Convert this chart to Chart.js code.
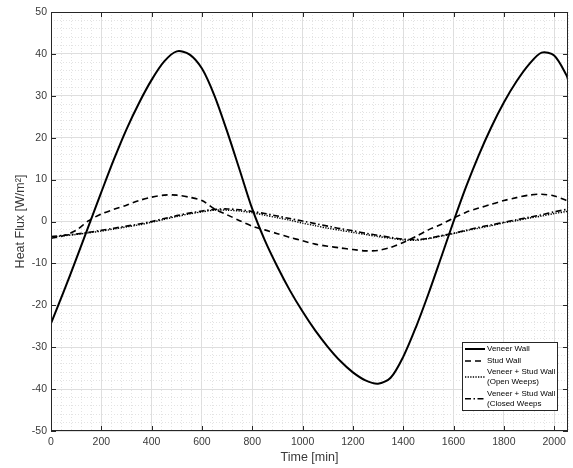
<!doctype html>
<html lang="en">
<head>
    <meta charset="utf-8" />
    <title>Heat Flux</title>
    <script src="https://cdn.jsdelivr.net/npm/chart.js"></script>
    <style>
        body { margin: 0; background: #fff; }
    </style>
</head>
<body>
    <canvas id="chartFlux" width="573" height="468"></canvas>
    <script>
        // time in minutes, shared by all series
        const timeMin = [0, 50, 100, 150, 200, 250, 300, 350, 400, 450, 500, 550, 600, 650, 700, 750, 800, 850, 900, 950,
            1000, 1050, 1100, 1150, 1200, 1250, 1300, 1350, 1400, 1450, 1500, 1550, 1600, 1650, 1700, 1750, 1800, 1850,
            1900, 1950, 2000, 2050, 2055];

        const veneerWall = [-24.3, -16.8, -9.0, -1.0, 7.0, 14.8, 22.0, 28.3, 33.8, 38.2, 40.6, 39.9, 36.5, 30.0, 21.5,
            12.3, 3.0, -4.5, -10.8, -16.5, -21.5, -26.0, -29.9, -33.3, -36.0, -37.9, -38.7, -37.3, -32.3, -25.3, -17.3,
            -8.7, 0.0, 8.3, 15.8, 22.5, 28.4, 33.4, 37.5, 40.3, 39.6, 34.8, 33.8];

        const studWall = [-4.0, -3.4, -2.1, 0.2, 1.8, 2.9, 3.9, 5.0, 5.8, 6.3, 6.3, 5.8, 5.0, 3.0, 1.6, 0.2, -1.1, -2.0,
            -2.9, -3.8, -4.6, -5.4, -5.9, -6.3, -6.7, -7.0, -6.9, -6.2, -5.0, -3.6, -2.0, -0.7, 0.8, 2.2, 3.2, 4.1, 5.0,
            5.7, 6.3, 6.5, 6.1, 5.0, 4.8];

        const openWeeps = [-3.8, -3.4, -3.1, -2.7, -2.3, -1.8, -1.3, -0.8, -0.2, 0.5, 1.2, 1.8, 2.3, 2.7, 2.7, 2.5, 2.1,
            1.5, 0.9, 0.3, -0.4, -1.0, -1.6, -2.1, -2.6, -3.1, -3.6, -4.0, -4.4, -4.5, -4.1, -3.5, -2.9, -2.2, -1.6, -1.0,
            -0.3, 0.2, 0.8, 1.3, 1.9, 2.4, 2.5];

        const closedWeeps = [-3.6, -3.3, -3.0, -2.6, -2.1, -1.6, -1.1, -0.6, 0.0, 0.7, 1.4, 2.0, 2.5, 2.9, 3.0, 2.8, 2.4,
            1.9, 1.3, 0.7, 0.1, -0.5, -1.1, -1.7, -2.2, -2.8, -3.3, -3.8, -4.2, -4.3, -4.0, -3.4, -2.8, -2.1, -1.4, -0.8,
            -0.2, 0.4, 1.0, 1.6, 2.3, 2.9, 3.0];

        const xMajorTicks = [0, 200, 400, 600, 800, 1000, 1200, 1400, 1600, 1800, 2000];
        const yMajorTicks = [-50, -40, -30, -20, -10, 0, 10, 20, 30, 40, 50];

        const legendLabels = [['Veneer Wall'], ['Stud Wall'], ['Veneer + Stud Wall', '(Open Weeps)'],
            ['Veneer + Stud Wall', '(Closed Weeps']];

        const AXIS_COLOR = '#262626';
        const TEXT_COLOR = '#3a3a3a';
        const MAJOR_GRID = '#dedede';
        const MINOR_GRID = '#e3e3e3';

        const styles = [
            { width: 2, dash: [] },
            { width: 1.6, dash: [6, 4] },
            { width: 1.4, dash: [1.3, 1.3] },
            { width: 1.6, dash: [6, 2.5, 1.5, 2.5] }
        ];

        function toPoints(values) {
            return timeMin.map((t, i) => ({ x: t, y: values[i] }));
        }

        function makeDataset(label, values, style) {
            return {
                label: label,
                data: toPoints(values),
                borderColor: '#000',
                borderWidth: style.width,
                borderDash: style.dash,
                pointRadius: 0,
                fill: false,
                tension: 0.3
            };
        }

        const boxPlugin = {
            id: 'boxPlugin',
            afterDraw(chart) {
                const { ctx, chartArea: a, scales } = chart;
                ctx.save();
                ctx.strokeStyle = AXIS_COLOR;
                ctx.lineWidth = 1;
                ctx.setLineDash([]);
                ctx.strokeRect(a.left + 0.5, a.top + 0.5, a.right - a.left - 1, a.bottom - a.top - 1);

                // inward tick marks
                ctx.beginPath();
                for (const v of xMajorTicks) {
                    const px = Math.round(scales.x.getPixelForValue(v)) + 0.5;
                    ctx.moveTo(px, a.bottom); ctx.lineTo(px, a.bottom - 5);
                    ctx.moveTo(px, a.top); ctx.lineTo(px, a.top + 5);
                }
                for (const v of yMajorTicks) {
                    const py = Math.round(scales.y.getPixelForValue(v)) + 0.5;
                    ctx.moveTo(a.left, py); ctx.lineTo(a.left + 5, py);
                    ctx.moveTo(a.right, py); ctx.lineTo(a.right - 5, py);
                }
                ctx.stroke();

                // legend
                const lx = 462, ly = 342, lw = 95, lh = 68;
                ctx.fillStyle = '#fff';
                ctx.fillRect(lx, ly, lw, lh);
                ctx.strokeRect(lx + 0.5, ly + 0.5, lw, lh);
                ctx.font = '8px "Liberation Sans", Arial, sans-serif';
                ctx.textBaseline = 'middle';
                ctx.fillStyle = '#000';
                const rows = [[349], [361], [372, 382], [393.5, 404]];
                for (let i = 0; i < legendLabels.length; i++) {
                    const r = rows[i];
                    const mid = (r[0] + r[r.length - 1]) / 2;
                    ctx.beginPath();
                    ctx.lineWidth = styles[i].width;
                    ctx.setLineDash(styles[i].dash);
                    ctx.strokeStyle = '#000';
                    ctx.moveTo(465, mid);
                    ctx.lineTo(485, mid);
                    ctx.stroke();
                    for (let j = 0; j < legendLabels[i].length; j++) {
                        ctx.fillText(legendLabels[i][j], 487, r[j]);
                    }
                }
                ctx.restore();
            }
        };

        const tickFont = { family: '"Liberation Sans", Arial, sans-serif', size: 10.5 };
        const titleFont = { family: '"Liberation Sans", Arial, sans-serif', size: 12.5 };

        new Chart(document.getElementById('chartFlux'), {
            type: 'line',
            data: {
                datasets: [
                    makeDataset('Veneer Wall', veneerWall, styles[0]),
                    makeDataset('Stud Wall', studWall, styles[1]),
                    makeDataset('Veneer + Stud Wall (Open Weeps)', openWeeps, styles[2]),
                    makeDataset('Veneer + Stud Wall (Closed Weeps', closedWeeps, styles[3])
                ]
            },
            options: {
                responsive: false,
                animation: false,
                devicePixelRatio: 1,
                layout: { padding: { top: 12, right: 1, left: 0, bottom: 0 } },
                plugins: {
                    legend: { display: false },
                    tooltip: { enabled: false }
                },
                scales: {
                    x: {
                        type: 'linear',
                        min: 0,
                        max: 2055,
                        afterFit: (s) => { s.height = 37; },
                        ticks: {
                            stepSize: 40,
                            autoSkip: false,
                            maxRotation: 0,
                            padding: 5,
                            color: TEXT_COLOR,
                            font: tickFont,
                            callback: (v) => (v % 200 === 0 ? v : '')
                        },
                        grid: {
                            drawTicks: false,
                            color: (c) => (c.tick && c.tick.value % 200 === 0 ? MAJOR_GRID : MINOR_GRID)
                        },
                        border: {
                            display: false,
                            dash: (c) => (c.tick && c.tick.value % 200 !== 0 ? [1, 2] : [])
                        },
                        title: {
                            display: true,
                            text: 'Time [min]',
                            color: TEXT_COLOR,
                            font: titleFont,
                            padding: { top: 3, bottom: 3 }
                        }
                    },
                    y: {
                        min: -50,
                        max: 50,
                        afterFit: (s) => { s.width = 51; },
                        ticks: {
                            stepSize: 2,
                            autoSkip: false,
                            padding: 4,
                            color: TEXT_COLOR,
                            font: tickFont,
                            callback: (v) => (Math.round(v) % 10 === 0 ? Math.round(v) : '')
                        },
                        grid: {
                            drawTicks: false,
                            color: (c) => (c.tick && Math.round(c.tick.value) % 10 === 0 ? MAJOR_GRID : MINOR_GRID)
                        },
                        border: {
                            display: false,
                            dash: (c) => (c.tick && Math.round(c.tick.value) % 10 !== 0 ? [1, 2] : [])
                        },
                        title: {
                            display: true,
                            text: 'Heat Flux [W/m²]',
                            color: TEXT_COLOR,
                            font: titleFont,
                            padding: { top: 13, bottom: 13 }
                        }
                    }
                }
            },
            plugins: [boxPlugin]
        });
    </script>
</body>
</html>
